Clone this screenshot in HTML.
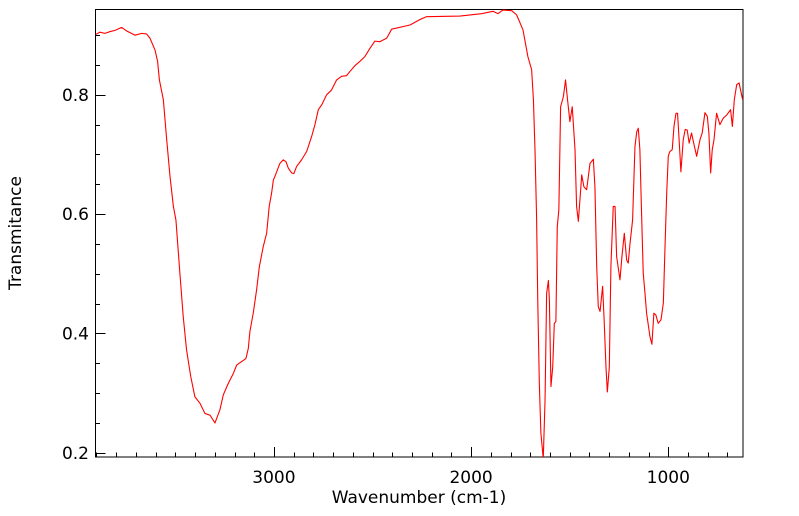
<!DOCTYPE html>
<html><head><meta charset="utf-8"><style>
html,body{margin:0;padding:0;background:#fff;}
svg{display:block;font-family:"DejaVu Sans","Liberation Sans",sans-serif;}
</style></head><body>
<svg id="chart" width="799" height="516" viewBox="0 0 799 516" xmlns="http://www.w3.org/2000/svg">
<defs><clipPath id="clip"><rect x="95.5" y="9.5" width="647.5" height="447.5"/></clipPath></defs>
<rect x="95.5" y="9.5" width="647.5" height="447.5" fill="none" stroke="#000" stroke-width="1"/>
<g id="ticks"></g>
<path id="line" clip-path="url(#clip)" fill="none" stroke="#ff0000" stroke-width="1.1" stroke-linejoin="round"/>
<text x="419" y="503" font-size="17" text-anchor="middle">Wavenumber (cm-1)</text>
<text x="0" y="0" font-size="17" text-anchor="middle" transform="translate(21,233) rotate(-90)">Transmitance</text>
</svg>
<script>
const wavenumbers = [3905,3882,3857,3831,3806,3772,3747,3705,3671,3646,3629,3603,3590,3581,3561,3544,3527,3510,3497,3477,3460,3443,3422,3401,3375,3350,3324,3299,3274,3257,3232,3206,3189,3164,3142,3130,3122,3105,3088,3074,3054,3037,3024,3012,3003,2986,2970,2953,2939,2927,2910,2899,2885,2860,2834,2809,2792,2775,2758,2733,2708,2682,2657,2632,2615,2589,2564,2539,2513,2488,2463,2428,2403,2310,2260,2226,2057,1947,1889,1864,1839,1794,1769,1737,1712,1693,1684,1676,1668,1662,1654,1646,1634,1625,1617,1608,1603,1595,1586,1578,1570,1563,1555,1546,1532,1521,1511,1499,1487,1473,1465,1456,1448,1439,1428,1414,1397,1380,1372,1363,1355,1346,1333,1326,1316,1309,1299,1291,1279,1270,1262,1245,1235,1223,1211,1203,1194,1181,1169,1160,1152,1144,1135,1127,1118,1110,1093,1083,1073,1063,1051,1037,1025,1017,1008,1000,992,980,971,961,953,944,936,924,914,904,894,882,873,856,839,828,814,802,794,785,777,768,755,738,721,704,684,675,665,653,641,623];
const transmittance = [0.901,0.905,0.903,0.906,0.908,0.913,0.907,0.900,0.903,0.902,0.895,0.875,0.856,0.825,0.792,0.725,0.663,0.613,0.590,0.501,0.428,0.372,0.328,0.294,0.283,0.266,0.263,0.250,0.272,0.297,0.316,0.333,0.347,0.353,0.358,0.375,0.403,0.434,0.473,0.512,0.546,0.568,0.613,0.635,0.657,0.671,0.685,0.691,0.688,0.677,0.669,0.668,0.680,0.691,0.705,0.730,0.750,0.775,0.783,0.800,0.808,0.825,0.831,0.832,0.839,0.849,0.856,0.864,0.878,0.890,0.889,0.895,0.910,0.917,0.926,0.931,0.932,0.936,0.940,0.936,0.942,0.941,0.934,0.909,0.864,0.842,0.792,0.708,0.596,0.456,0.316,0.233,0.190,0.288,0.467,0.489,0.456,0.311,0.344,0.417,0.420,0.579,0.607,0.780,0.797,0.825,0.792,0.755,0.780,0.708,0.613,0.588,0.624,0.666,0.646,0.641,0.685,0.692,0.646,0.512,0.445,0.437,0.479,0.428,0.344,0.302,0.344,0.512,0.613,0.613,0.529,0.490,0.529,0.568,0.523,0.518,0.551,0.590,0.713,0.738,0.744,0.708,0.596,0.501,0.467,0.434,0.395,0.382,0.434,0.431,0.417,0.423,0.451,0.540,0.635,0.697,0.705,0.708,0.747,0.769,0.769,0.719,0.671,0.725,0.742,0.741,0.719,0.736,0.722,0.697,0.725,0.736,0.770,0.764,0.736,0.669,0.708,0.725,0.769,0.750,0.761,0.766,0.775,0.747,0.792,0.817,0.820,0.792];
const xTickLabels = ["3000","2000","1000"];
const yTickLabels = ["0.2","0.4","0.6","0.8"];

const X0 = 95.5, X1 = 743, Y0 = 457, Y1 = 9.5;
const WN_LEFT = 3905, WN_RIGHT = 621, T_BOT = 0.193, T_TOP = 0.943;
function xs(w){ return X0 + (WN_LEFT - w) / (WN_LEFT - WN_RIGHT) * (X1 - X0); }
function ys(t){ return Y0 - (t - T_BOT) / (T_TOP - T_BOT) * (Y0 - Y1); }

const NS = "http://www.w3.org/2000/svg";
let d = "";
for (let i = 0; i < wavenumbers.length; i++) {
  d += (i ? "L" : "M") + xs(wavenumbers[i]).toFixed(2) + "," + ys(transmittance[i]).toFixed(2);
}
document.getElementById("line").setAttribute("d", d);

const tg = document.getElementById("ticks");
const svg = document.getElementById("chart");
function line(x1,y1,x2,y2){
  const l = document.createElementNS(NS,"line");
  l.setAttribute("x1",x1);l.setAttribute("y1",y1);l.setAttribute("x2",x2);l.setAttribute("y2",y2);
  l.setAttribute("stroke","#000");l.setAttribute("stroke-width","1");
  
  
  tg.appendChild(l);
}
for (let w = 3900; w >= 700; w -= 100) {
  const x = Math.round(xs(w)) + 0.5;
  const major = w % 1000 === 0;
  line(x, Y0, x, Y0 - (major ? 10 : 4.5));
}
xTickLabels.forEach(function(s){
  const t = document.createElementNS(NS,"text");
  t.setAttribute("x", xs(parseFloat(s)));
  t.setAttribute("y", 483);
  t.setAttribute("font-size","17");
  t.setAttribute("text-anchor","middle");
  t.textContent = s;
  
  
  svg.appendChild(t);
});
for (let k = 4; k <= 18; k++) {
  const v = k * 0.05;
  const y = Math.round(ys(v)) + 0.5;
  const major = k % 4 === 0;
  line(X0, y, X0 + (major ? 10 : 4.5), y);
}
yTickLabels.forEach(function(s){
  const t = document.createElementNS(NS,"text");
  t.setAttribute("x", 89);
  t.setAttribute("y", ys(parseFloat(s)) + 6);
  t.setAttribute("font-size","17");
  t.setAttribute("text-anchor","end");
  t.textContent = s;
  
  
  svg.appendChild(t);
});
</script>
</body></html>
